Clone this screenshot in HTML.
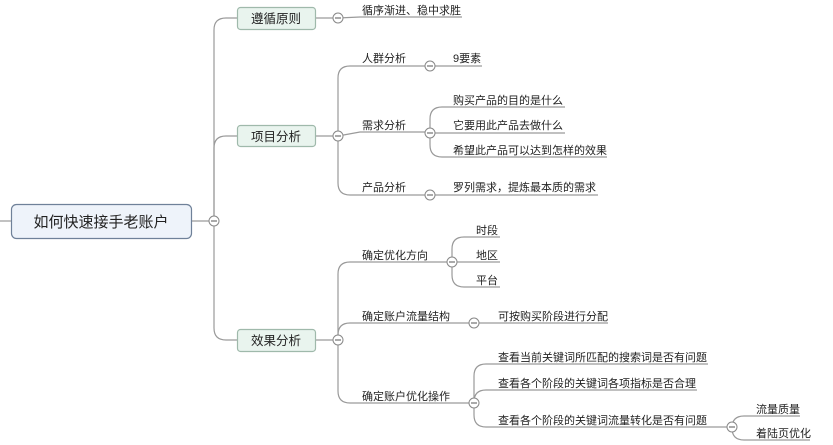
<!DOCTYPE html>
<html><head><meta charset="utf-8"><style>
html,body{margin:0;padding:0;background:#fff;}
svg{display:block}
text{font-family:"Liberation Sans","Noto Sans CJK SC",sans-serif;fill:#222;}
</style></head><body>
<svg width="833" height="445" viewBox="0 0 833 445" xmlns="http://www.w3.org/2000/svg">
<g fill="none" stroke="#9a9a9a" stroke-width="1.2">
<path d="M0,221 H11"/>
<path d="M191,221 H214"/>
<path d="M214,221 V30 Q214,18 226,18 H237"/>
<path d="M214,221 V148 Q214,136 226,136 H237"/>
<path d="M214,221 V328 Q214,340 226,340 H237"/>
<path d="M315,18 H338 L360,17 H462"/>
<path d="M315,136 H338"/>
<path d="M338,136 V78 Q338,66 350,66 H430"/>
<path d="M338,136 L360,132 H430"/>
<path d="M338,136 V183 Q338,195 350,195 H430"/>
<path d="M430,66 H482"/>
<path d="M430,133 V119 Q430,107 442,107 H565"/>
<path d="M430,133 H565"/>
<path d="M430,133 V145 Q430,157 442,157 H607"/>
<path d="M430,195 H598"/>
<path d="M315,340 H338"/>
<path d="M338,340 V274 Q338,262 350,262 H452"/>
<path d="M338,340 V335 Q338,323 350,323 H474"/>
<path d="M338,340 V391 Q338,403 350,403 H474"/>
<path d="M452,262 V249 Q452,237 464,237 H500"/>
<path d="M452,262 H500"/>
<path d="M452,262 V275 Q452,287 464,287 H500"/>
<path d="M474,323 H608"/>
<path d="M474,403 V376 Q474,364 486,364 H708"/>
<path d="M474,403 V402 Q474,390 486,390 H697"/>
<path d="M474,403 V415 Q474,427 486,427 H732"/>
<path d="M732,427 V428 Q732,416 744,416 H800"/>
<path d="M732,427 V428 Q732,440 744,440 H810"/>
</g>
<rect x="11.5" y="204.5" width="180" height="34" rx="5" fill="#eef3fa" stroke="#6f8199" stroke-width="1.2"/>
<text x="101" y="227" font-size="15" text-anchor="middle">如何快速接手老账户</text>
<g fill="#e9f4ee" stroke="#9fb9ab" stroke-width="1.2">
<rect x="237.5" y="7.5" width="78" height="22" rx="3"/>
<rect x="237.5" y="125.5" width="78" height="21" rx="3"/>
<rect x="237.5" y="329.5" width="78" height="22" rx="3"/>
</g>
<g font-size="12.5" text-anchor="middle">
<text x="276" y="23">遵循原则</text>
<text x="276" y="141">项目分析</text>
<text x="276" y="345">效果分析</text>
</g>
<g fill="#fff" stroke="#888" stroke-width="1">
<circle cx="214" cy="221" r="5"/>
<circle cx="338" cy="18" r="5"/>
<circle cx="338" cy="136" r="5"/>
<circle cx="338" cy="340" r="5"/>
<circle cx="430" cy="66" r="5"/>
<circle cx="430" cy="133" r="5"/>
<circle cx="430" cy="195" r="5"/>
<circle cx="452" cy="262" r="5"/>
<circle cx="474" cy="323" r="5"/>
<circle cx="474" cy="403" r="5"/>
<circle cx="732" cy="427" r="5"/>
</g>
<g stroke="#555" stroke-width="1">
<path d="M211,221h6M335,18h6M335,136h6M335,340h6M427,66h6M427,133h6M427,195h6M449,262h6M471,323h6M471,403h6M729,427h6"/>
</g>
<g font-size="11">
<text x="362" y="14">循序渐进、稳中求胜</text>
<text x="362" y="62">人群分析</text>
<text x="362" y="129">需求分析</text>
<text x="362" y="191">产品分析</text>
<text x="453" y="62">9要素</text>
<text x="453" y="104">购买产品的目的是什么</text>
<text x="453" y="129">它要用此产品去做什么</text>
<text x="453" y="154">希望此产品可以达到怎样的效果</text>
<text x="453" y="191">罗列需求，提炼最本质的需求</text>
<text x="362" y="259">确定优化方向</text>
<text x="476" y="234">时段</text>
<text x="476" y="259">地区</text>
<text x="476" y="284">平台</text>
<text x="362" y="320">确定账户流量结构</text>
<text x="498" y="320">可按购买阶段进行分配</text>
<text x="362" y="400">确定账户优化操作</text>
<text x="498" y="361">查看当前关键词所匹配的搜索词是否有问题</text>
<text x="498" y="387">查看各个阶段的关键词各项指标是否合理</text>
<text x="498" y="424">查看各个阶段的关键词流量转化是否有问题</text>
<text x="756" y="413">流量质量</text>
<text x="756" y="437">着陆页优化</text>
</g>
</svg>
</body></html>
